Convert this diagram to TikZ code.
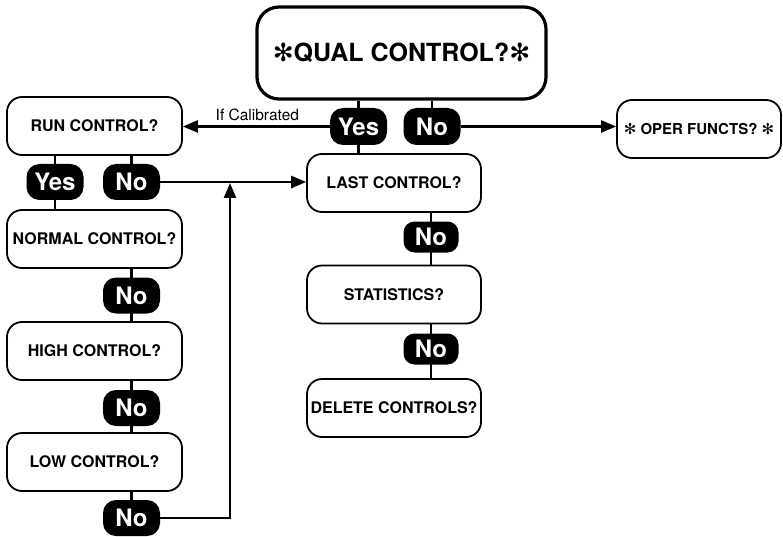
\documentclass[tikz,border=0pt]{standalone}
\usepackage{fontspec}
\setmainfont{TeX Gyre Heros}
\newfontfamily\dejavu{DejaVu Sans}
\usetikzlibrary{arrows.meta,backgrounds}
\newcommand{\myast}{{\dejavu ✻}}
\begin{document}
\begin{tikzpicture}[x=1pt,y=-1pt,
  box/.style={draw,line width=1.8pt,rounded corners=15pt,minimum width=175pt,minimum height=58pt,font=\bfseries\fontsize{16}{18}\selectfont,inner sep=0pt},
  bigbox/.style={draw,line width=3.2pt,rounded corners=22pt,minimum width=289pt,minimum height=92pt,font=\bfseries\fontsize{25}{28}\selectfont,inner sep=0pt},
  pill/.style={fill=black,text=white,rounded corners=13pt,minimum width=57pt,minimum height=37pt,font=\bfseries\fontsize{24}{26}\selectfont,inner sep=0pt},
  spill/.style={pill,minimum width=55pt,minimum height=31pt,rounded corners=11pt},
  conn/.style={line width=2.8pt},
  arr/.style={line width=2.4pt,-{Triangle[length=15pt,width=12pt]}}]
\useasboundingbox (0,0) rectangle (783,537);
% boxes
\node[bigbox] (qual) at (401.5,53) {\myast QUAL CONTROL?\myast};
\node[pill] (qyes) at (358.5,126.5) {Yes};
\node[pill] (qno) at (432,126.5) {No};
\node[box] (run) at (94.5,126) {RUN CONTROL?};
\node[pill,minimum height=36pt] (ryes) at (55,182) {Yes};
\node[pill,minimum height=36pt] (rno) at (131.5,182) {No};
\node[box] (normal) at (94.5,239) {NORMAL CONTROL?};
\node[pill,minimum height=36pt] (nno) at (131.5,295.5) {No};
\node[box] (high) at (94.5,351) {HIGH CONTROL?};
\node[pill,minimum height=36pt] (hno) at (131.5,408) {No};
\node[box] (low) at (94.5,462) {LOW CONTROL?};
\node[pill,minimum height=36pt] (lno) at (131.5,518) {No};
\node[box,minimum width=174pt] (last) at (394,183) {LAST CONTROL?};
\node[spill] (lano) at (431,237) {No};
\node[box,minimum width=174pt] (stat) at (394,294.5) {STATISTICS?};
\node[spill] (sno) at (431,349) {No};
\node[box,minimum width=174pt] (del) at (394,408) {DELETE CONTROLS?};
\node[box,minimum width=164pt,font=\bfseries\fontsize{15}{17}\selectfont] (oper) at (699,129) {\myast{} OPER FUNCTS? \myast};
\coordinate (j) at (230,183);
\begin{scope}[on background layer]
  \draw[conn] (qual.south -| qyes) -- (last.north -| qyes);
  \draw[conn] (qual.south -| qno) -- (qno);
  \draw[conn] (run.south -| ryes) -- (normal.north -| ryes);
  \draw[conn] (run.south -| rno) -- (rno);
  \draw[conn] (normal.south -| nno) -- (high.north -| nno);
  \draw[conn] (high.south -| hno) -- (low.north -| hno);
  \draw[conn] (low.south -| lno) -- (lno);
  \draw[conn] (last.south -| lano) -- (stat.north -| lano);
  \draw[conn] (stat.south -| sno) -- (del.north -| sno);
\end{scope}
\draw[arr] (qyes.west) -- node[above=1pt,font=\fontsize{15.5}{17}\selectfont,xshift=1pt] {If Calibrated} (qyes.west -| run.east);
\draw[arr] (qno.east) -- (qno.east -| oper.west);
\draw[arr] (rno.east) -- (rno.east -| last.west);
\draw[arr] (lno.east) -| (j);
\end{tikzpicture}
\end{document}
